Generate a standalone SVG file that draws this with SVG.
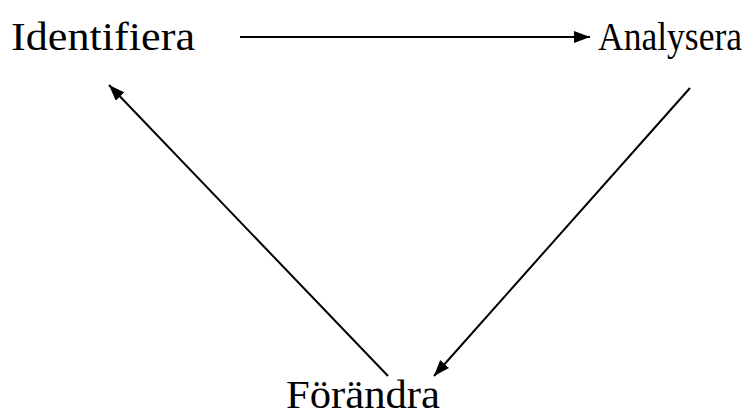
<svg xmlns="http://www.w3.org/2000/svg" width="754" height="418" viewBox="0 0 754 418">
<style>
.lbl{font-family:"Liberation Serif","Times New Roman",serif;font-size:40px;fill:#000}
.con{stroke:#000;stroke-width:2;fill:none;marker-end:url(#ah)}
</style>
<defs>
<marker id="ah" markerWidth="8" markerHeight="6" refX="8" refY="3" orient="auto" markerUnits="strokeWidth">
<path d="M0,0 L8,3 L0,6 Z" fill="#000"/>
</marker>
</defs>
<rect width="754" height="418" fill="#fff"/>
<g id="identifiera"><text class="lbl" x="11" y="50" textLength="184" lengthAdjust="spacingAndGlyphs">Identifiera</text></g>
<g id="analysera"><text class="lbl" x="598" y="50" textLength="144" lengthAdjust="spacingAndGlyphs">Analysera</text></g>
<g id="forandra"><text class="lbl" x="286" y="408" textLength="154" lengthAdjust="spacingAndGlyphs">Förändra</text></g>
<g id="connectors">
<line class="con" x1="240" y1="37" x2="590" y2="37"/>
<line class="con" x1="690" y1="88" x2="434" y2="376"/>
<line class="con" x1="388" y1="376" x2="109" y2="85"/>
</g>
</svg>
